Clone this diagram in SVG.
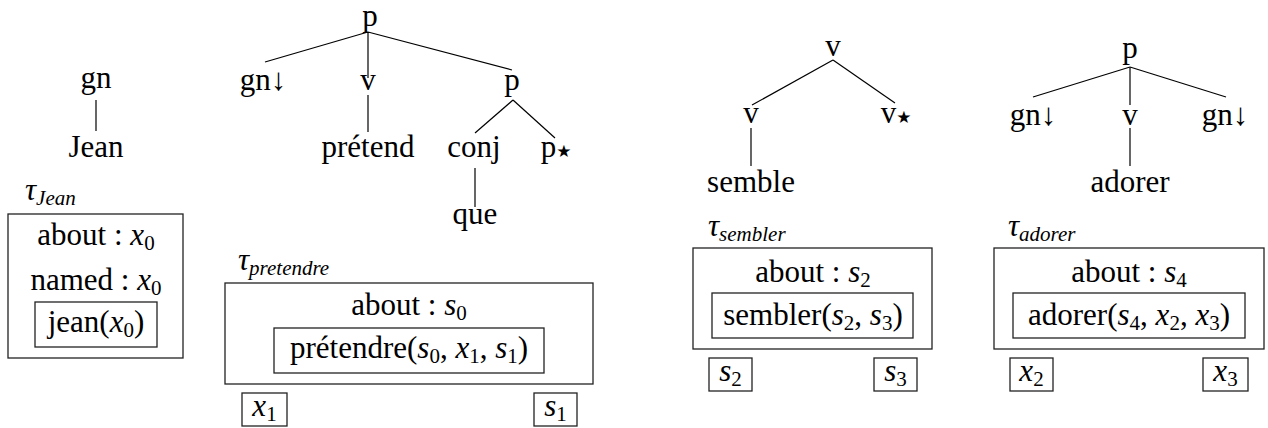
<svg xmlns="http://www.w3.org/2000/svg" width="1268" height="428" viewBox="0 0 1268 428">
<g id="connectors" stroke="#000" stroke-width="1.2" fill="none">
<line x1="96" y1="100" x2="96" y2="131"/>
<line x1="368" y1="32" x2="265" y2="62"/>
<line x1="368" y1="32" x2="368" y2="78"/>
<line x1="368" y1="32" x2="512" y2="70"/>
<line x1="368" y1="95" x2="368" y2="132"/>
<line x1="513" y1="100" x2="475" y2="133"/>
<line x1="513" y1="100" x2="555" y2="138"/>
<line x1="475" y1="168" x2="475" y2="207"/>
<line x1="833" y1="60" x2="752" y2="105"/>
<line x1="833" y1="60" x2="895" y2="103"/>
<line x1="751" y1="128" x2="751" y2="166"/>
<line x1="1130" y1="67" x2="1033" y2="97"/>
<line x1="1130" y1="67" x2="1130" y2="105"/>
<line x1="1130" y1="67" x2="1226" y2="97"/>
<line x1="1130" y1="128" x2="1130" y2="166"/>
</g>
<g id="tree-jean" font-family="Liberation Serif, serif" font-size="31" text-anchor="middle">
<text style="font-family:'Liberation Serif',serif !important" x="96" y="88">gn</text>
<text style="font-family:'Liberation Serif',serif !important" x="96" y="157">Jean</text>
</g>
<g id="sem-jean" font-family="Liberation Serif, serif" font-size="31" text-anchor="middle">
<text style="font-family:'Liberation Serif',serif !important" x="25" y="200" text-anchor="start" font-style="italic">τ<tspan font-size="21" dy="5">Jean</tspan></text>
<rect x="8" y="214" width="175" height="144" fill="none" stroke="#222" stroke-width="1.3"/>
<text style="font-family:'Liberation Serif',serif !important" x="96" y="245">about : <tspan font-style="italic">x</tspan><tspan font-size="21" dy="5">0</tspan></text>
<text style="font-family:'Liberation Serif',serif !important" x="96" y="290">named : <tspan font-style="italic">x</tspan><tspan font-size="21" dy="5">0</tspan></text>
<rect x="35" y="302" width="122" height="45" fill="none" stroke="#222" stroke-width="1.3"/>
<text style="font-family:'Liberation Serif',serif !important" x="96" y="332">jean(<tspan font-style="italic">x</tspan><tspan font-size="21" dy="5">0</tspan><tspan dy="-5">)</tspan></text>
</g>
<g id="tree-pretendre" font-family="Liberation Serif, serif" font-size="31" text-anchor="middle">
<text style="font-family:'Liberation Serif',serif !important" x="370" y="26">p</text>
<text style="font-family:'Liberation Serif',serif !important" x="263" y="90">gn↓</text>
<text style="font-family:'Liberation Serif',serif !important" x="368" y="90">v</text>
<text style="font-family:'Liberation Serif',serif !important" x="512" y="90">p</text>
<text style="font-family:'Liberation Serif',serif !important" x="368" y="157">prétend</text>
<text style="font-family:'Liberation Serif',serif !important" x="474" y="157">conj</text>
<text style="font-family:'Liberation Serif',serif !important" x="556" y="157">p<tspan style="font-family:'DejaVu Sans',sans-serif !important" font-size="17">★</tspan></text>
<text style="font-family:'Liberation Serif',serif !important" x="475" y="224">que</text>
</g>
<g id="sem-pretendre" font-family="Liberation Serif, serif" font-size="31" text-anchor="middle">
<text style="font-family:'Liberation Serif',serif !important" x="238" y="270" text-anchor="start" font-style="italic">τ<tspan font-size="21" dy="5">pretendre</tspan></text>
<rect x="225" y="283" width="368" height="101" fill="none" stroke="#222" stroke-width="1.3"/>
<text style="font-family:'Liberation Serif',serif !important" x="409" y="315">about : <tspan font-style="italic">s</tspan><tspan font-size="21" dy="5">0</tspan></text>
<rect x="274" y="328" width="270" height="45" fill="none" stroke="#222" stroke-width="1.3"/>
<text style="font-family:'Liberation Serif',serif !important" x="409" y="358">prétendre(<tspan font-style="italic">s</tspan><tspan font-size="21" dy="5">0</tspan><tspan dy="-5">, </tspan><tspan font-style="italic">x</tspan><tspan font-size="21" dy="5">1</tspan><tspan dy="-5">, </tspan><tspan font-style="italic">s</tspan><tspan font-size="21" dy="5">1</tspan><tspan dy="-5">)</tspan></text>
<rect x="242" y="393" width="45" height="33" fill="none" stroke="#222" stroke-width="1.3"/>
<text style="font-family:'Liberation Serif',serif !important" x="264.5" y="416"><tspan font-style="italic">x</tspan><tspan font-size="21" dy="5">1</tspan></text>
<rect x="534" y="393" width="43" height="33" fill="none" stroke="#222" stroke-width="1.3"/>
<text style="font-family:'Liberation Serif',serif !important" x="555.5" y="416"><tspan font-style="italic">s</tspan><tspan font-size="21" dy="5">1</tspan></text>
</g>
<g id="tree-sembler" font-family="Liberation Serif, serif" font-size="31" text-anchor="middle">
<text style="font-family:'Liberation Serif',serif !important" x="833" y="56">v</text>
<text style="font-family:'Liberation Serif',serif !important" x="751" y="123">v</text>
<text style="font-family:'Liberation Serif',serif !important" x="896" y="123">v<tspan style="font-family:'DejaVu Sans',sans-serif !important" font-size="17">★</tspan></text>
<text style="font-family:'Liberation Serif',serif !important" x="751" y="192">semble</text>
</g>
<g id="sem-sembler" font-family="Liberation Serif, serif" font-size="31" text-anchor="middle">
<text style="font-family:'Liberation Serif',serif !important" x="708" y="236" text-anchor="start" font-style="italic">τ<tspan font-size="21" dy="5">sembler</tspan></text>
<rect x="693" y="248" width="239" height="101" fill="none" stroke="#222" stroke-width="1.3"/>
<text style="font-family:'Liberation Serif',serif !important" x="813" y="282">about : <tspan font-style="italic">s</tspan><tspan font-size="21" dy="5">2</tspan></text>
<rect x="712" y="293" width="201" height="45" fill="none" stroke="#222" stroke-width="1.3"/>
<text style="font-family:'Liberation Serif',serif !important" x="813" y="325">sembler(<tspan font-style="italic">s</tspan><tspan font-size="21" dy="5">2</tspan><tspan dy="-5">, </tspan><tspan font-style="italic">s</tspan><tspan font-size="21" dy="5">3</tspan><tspan dy="-5">)</tspan></text>
<rect x="709" y="358" width="43" height="33" fill="none" stroke="#222" stroke-width="1.3"/>
<text style="font-family:'Liberation Serif',serif !important" x="730.5" y="381"><tspan font-style="italic">s</tspan><tspan font-size="21" dy="5">2</tspan></text>
<rect x="874" y="358" width="43" height="33" fill="none" stroke="#222" stroke-width="1.3"/>
<text style="font-family:'Liberation Serif',serif !important" x="895.5" y="381"><tspan font-style="italic">s</tspan><tspan font-size="21" dy="5">3</tspan></text>
</g>
<g id="tree-adorer" font-family="Liberation Serif, serif" font-size="31" text-anchor="middle">
<text style="font-family:'Liberation Serif',serif !important" x="1130" y="58">p</text>
<text style="font-family:'Liberation Serif',serif !important" x="1033" y="125">gn↓</text>
<text style="font-family:'Liberation Serif',serif !important" x="1130" y="125">v</text>
<text style="font-family:'Liberation Serif',serif !important" x="1225" y="125">gn↓</text>
<text style="font-family:'Liberation Serif',serif !important" x="1130" y="192">adorer</text>
</g>
<g id="sem-adorer" font-family="Liberation Serif, serif" font-size="31" text-anchor="middle">
<text style="font-family:'Liberation Serif',serif !important" x="1008" y="236" text-anchor="start" font-style="italic">τ<tspan font-size="21" dy="5">adorer</tspan></text>
<rect x="994" y="248" width="270" height="101" fill="none" stroke="#222" stroke-width="1.3"/>
<text style="font-family:'Liberation Serif',serif !important" x="1129" y="282">about : <tspan font-style="italic">s</tspan><tspan font-size="21" dy="5">4</tspan></text>
<rect x="1013" y="293" width="232" height="45" fill="none" stroke="#222" stroke-width="1.3"/>
<text style="font-family:'Liberation Serif',serif !important" x="1129" y="325">adorer(<tspan font-style="italic">s</tspan><tspan font-size="21" dy="5">4</tspan><tspan dy="-5">, </tspan><tspan font-style="italic">x</tspan><tspan font-size="21" dy="5">2</tspan><tspan dy="-5">, </tspan><tspan font-style="italic">x</tspan><tspan font-size="21" dy="5">3</tspan><tspan dy="-5">)</tspan></text>
<rect x="1010" y="358" width="43" height="33" fill="none" stroke="#222" stroke-width="1.3"/>
<text style="font-family:'Liberation Serif',serif !important" x="1031.5" y="381"><tspan font-style="italic">x</tspan><tspan font-size="21" dy="5">2</tspan></text>
<rect x="1203" y="358" width="45" height="33" fill="none" stroke="#222" stroke-width="1.3"/>
<text style="font-family:'Liberation Serif',serif !important" x="1225.5" y="381"><tspan font-style="italic">x</tspan><tspan font-size="21" dy="5">3</tspan></text>
</g>
</svg>
